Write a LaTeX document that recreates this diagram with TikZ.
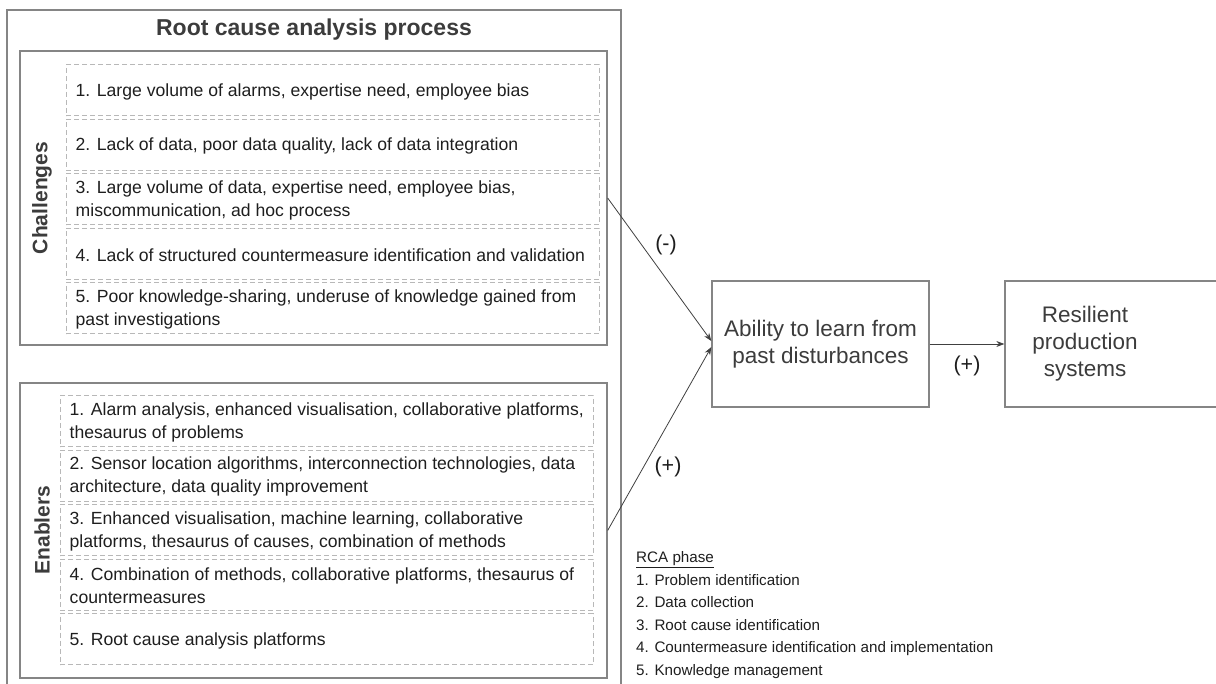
\documentclass[tikz,border=0pt]{standalone}
\usepackage{fontspec}
\setmainfont{Liberation Sans}
\usetikzlibrary{arrows.meta}
\definecolor{boxgray}{HTML}{858585}
\definecolor{dashgray}{HTML}{B8B8B8}
\definecolor{txt}{HTML}{1E1E1E}
\definecolor{headtxt}{HTML}{3C3C3C}
\definecolor{linegray}{HTML}{404040}
\begin{document}
\begin{tikzpicture}[x=1pt,y=-1pt,
  frame/.style={draw=boxgray, line width=1.3pt},
  framebox/.style={frame, inner sep=0pt},
  dbox/.style={draw=dashgray, line width=1pt, dash pattern=on 5pt off 3pt,
    minimum width=533pt, minimum height=51pt, inner sep=0pt},
  itemtxt/.style={anchor=west, align=left, inner sep=0pt, text=txt,
    font=\fontsize{17.6}{23}\selectfont},
  sidelabel/.style={rotate=90, text=headtxt, inner sep=0pt,
    font=\fontsize{21}{25}\selectfont\bfseries},
  bigtxt/.style={align=center, text=headtxt, inner sep=0pt,
    font=\fontsize{22.5}{27}\selectfont},
  signlbl/.style={text=txt, inner sep=0pt, font=\fontsize{21.5}{25}\selectfont},
  legend/.style={anchor=base west, inner sep=0pt, text=txt,
    font=\fontsize{15.2}{18}\selectfont},
  conn/.style={draw=linegray, line width=0.8pt,
    -{Stealth[length=8pt,width=6pt]}}
]
\useasboundingbox (0,0) rectangle (1216,684);

% outer frame (runs past the lower edge)
\draw[frame] (7,10) rectangle (621,720);
\node[text=headtxt, inner sep=0pt, font=\fontsize{23}{27}\selectfont\bfseries] (title) at (314,30) {Root cause analysis process};

% Challenges
\node[framebox, minimum width=587pt, minimum height=294pt] (chal) at (313.5,198) {};
\node[sidelabel] (challbl) at (42,198) {Challenges};
\node[dbox] (c1) at (332.5,90.5) {};
\node[dbox] (c2) at (332.5,144.9) {};
\node[dbox] (c3) at (332.5,199.3) {};
\node[dbox] (c4) at (332.5,253.7) {};
\node[dbox] (c5) at (332.5,308.1) {};
\node[itemtxt] (c1t) at ([xshift=10pt,yshift=-1.5pt]c1.west) {1. Large volume of alarms, expertise need, employee bias};
\node[itemtxt] (c2t) at ([xshift=10pt,yshift=-1.5pt]c2.west) {2. Lack of data, poor data quality, lack of data integration};
\node[itemtxt] (c3t) at ([xshift=10pt,yshift=-1pt]c3.west) {3. Large volume of data, expertise need, employee bias,\\miscommunication, ad hoc process};
\node[itemtxt] (c4t) at ([xshift=10pt,yshift=-1.5pt]c4.west) {4. Lack of structured countermeasure identification and validation};
\node[itemtxt] (c5t) at ([xshift=10pt,yshift=-1pt]c5.west) {5. Poor knowledge-sharing, underuse of knowledge gained from\\past investigations};

% Enablers
\node[framebox, minimum width=587pt, minimum height=295pt] (enab) at (313.5,530.5) {};
\node[sidelabel] (enablbl) at (42,530) {Enablers};
\node[dbox] (e1) at (326.5,421.5) {};
\node[dbox] (e2) at (326.5,475.9) {};
\node[dbox] (e3) at (326.5,530.3) {};
\node[dbox] (e4) at (326.5,584.7) {};
\node[dbox] (e5) at (326.5,639.1) {};
\node[itemtxt] (e1t) at ([xshift=10pt,yshift=-1pt]e1.west) {1. Alarm analysis, enhanced visualisation, collaborative platforms,\\thesaurus of problems};
\node[itemtxt] (e2t) at ([xshift=10pt,yshift=-1pt]e2.west) {2. Sensor location algorithms, interconnection technologies, data\\architecture, data quality improvement};
\node[itemtxt] (e3t) at ([xshift=10pt,yshift=-1pt]e3.west) {3. Enhanced visualisation, machine learning, collaborative\\platforms, thesaurus of causes, combination of methods};
\node[itemtxt] (e4t) at ([xshift=10pt,yshift=-1pt]e4.west) {4. Combination of methods, collaborative platforms, thesaurus of\\countermeasures};
\node[itemtxt] (e5t) at ([xshift=10pt,yshift=-1.5pt]e5.west) {5. Root cause analysis platforms};

% Outcome boxes
\node[framebox, minimum width=217pt, minimum height=126pt] (abil) at (820.5,344) {};
\node[bigtxt] (abilt) at (820.5,344) {Ability to learn from\\past disturbances};
\node[framebox, minimum width=225pt, minimum height=126pt] (resbox) at (1117.5,344) {};
\node[bigtxt] (rest) at (1085,344) {Resilient\\production\\systems};

% Connectors
\draw[conn] (chal.east) -- ([yshift=3pt]abil.west);
\draw[conn] (enab.east) -- ([yshift=-3pt]abil.west);
\draw[conn] (abil.east) -- (resbox.west);
\node[signlbl] (minus) at (666,245) {(-)};
\node[signlbl] (plus1) at (668,467) {(+)};
\node[signlbl] (plus2) at (967,366) {(+)};

% Legend
\node[legend] (lg0) at (636,562.4) {\underline{RCA phase}};
\node[legend] (lg1) at (636,585.4) {1. Problem identification};
\node[legend] (lg2) at (636,607.9) {2. Data collection};
\node[legend] (lg3) at (636,630.4) {3. Root cause identification};
\node[legend] (lg4) at (636,652.9) {4. Countermeasure identification and implementation};
\node[legend] (lg5) at (636,675.4) {5. Knowledge management};
\end{tikzpicture}
\end{document}
